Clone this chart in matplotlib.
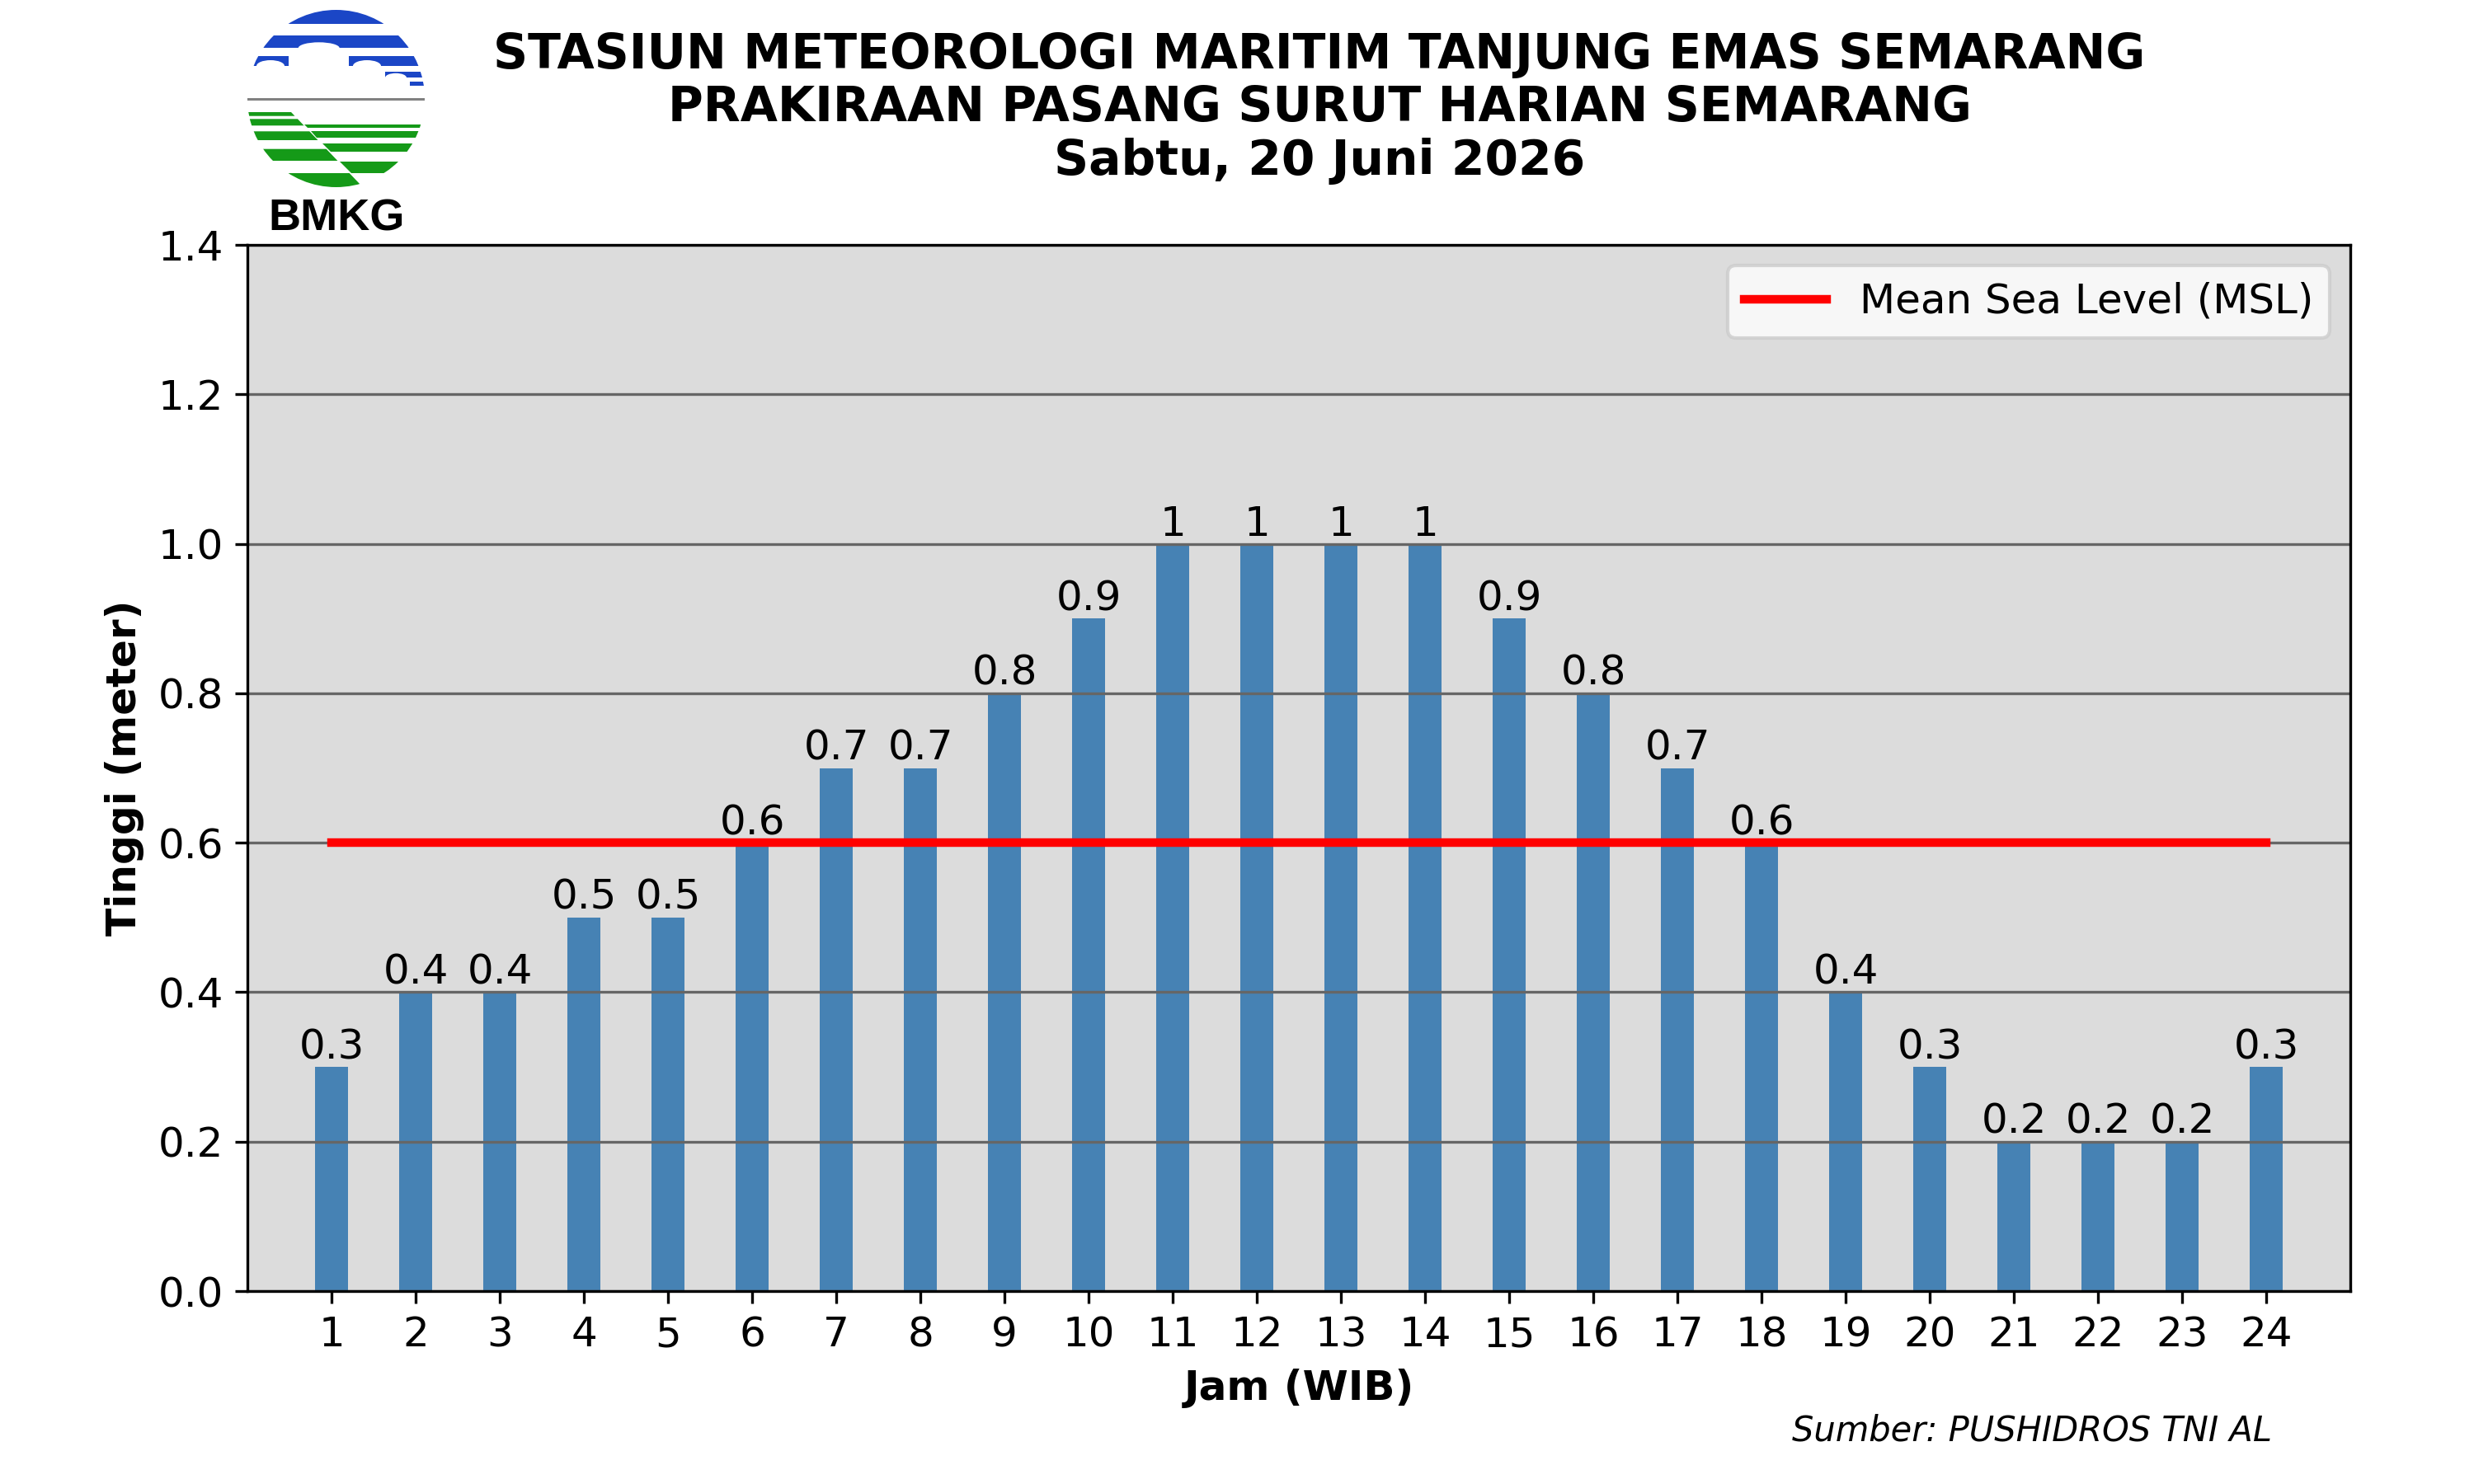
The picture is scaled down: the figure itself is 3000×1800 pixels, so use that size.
import matplotlib
matplotlib.use("Agg")
import matplotlib.pyplot as plt
from matplotlib.patches import Circle, Rectangle, Ellipse, Polygon

# ---------------- data ----------------
hours = list(range(1, 25))
heights = [0.3, 0.4, 0.4, 0.5, 0.5, 0.6, 0.7, 0.7, 0.8, 0.9, 1, 1,
           1, 1, 0.9, 0.8, 0.7, 0.6, 0.4, 0.3, 0.2, 0.2, 0.2, 0.3]
msl = 0.6
yticks = [0.0, 0.2, 0.4, 0.6, 0.8, 1.0, 1.2, 1.4]
title_lines = ["STASIUN METEOROLOGI MARITIM TANJUNG EMAS SEMARANG",
               "PRAKIRAAN PASANG SURUT HARIAN SEMARANG",
               "Sabtu, 20 Juni 2026"]
source_text = "Sumber: PUSHIDROS TNI AL"
legend_label = "Mean Sea Level (MSL)"

plt.rcParams['font.family'] = ['DejaVu Sans']

W, H = 3000, 1800
fig = plt.figure(figsize=(10, 6), dpi=300)

# ---------------- main chart ----------------
ax = fig.add_axes([0.1, 0.13, 0.85, 0.705])
ax.set_facecolor('#dcdcdc')
bars = ax.bar(hours, heights, width=0.4, color='steelblue')
ax.bar_label(bars, fmt='%g', fontsize=12)
ax.plot([hours[0], hours[-1]], [msl, msl], color='red', lw=2.5, label=legend_label)
ax.set_xlim(0, 25)
ax.set_ylim(0, 1.4)
ax.set_xticks(hours)
ax.set_yticks(yticks)
ax.tick_params(labelsize=12)
ax.yaxis.grid(True, color='#666666', lw=0.8)
ax.set_xlabel('Jam (WIB)', fontsize=12, fontweight='bold')
ax.set_ylabel('Tinggi (meter)', fontsize=12, fontweight='bold')
ax.legend(loc='upper right', fontsize=12)

# ---------------- titles ----------------
for txt, yb in zip(title_lines, [83, 147.5, 212]):
    fig.text(1600 / W, 1 - yb / H, txt, ha='center', va='baseline',
             fontsize=14, fontweight='bold')

fig.text(2755 / W, 1 - 1747 / H, source_text, ha='right', va='baseline',
         fontsize=10, style='italic')

# ---------------- logo (drawn in pixel coordinates) ----------------
x0, x1, y0, y1 = 295, 525, 5, 235
lax = fig.add_axes([x0 / W, 1 - y1 / H, (x1 - x0) / W, (y1 - y0) / H])
lax.set_xlim(x0, x1)
lax.set_ylim(y1, y0)
lax.axis('off')

cx, cy, r = 407.5, 119.5, 107.5
clip = Circle((cx, cy), r, transform=lax.transData)
blue = '#1b46c6'
green = '#159a18'


def add(p):
    lax.add_patch(p)
    p.set_clip_path(clip)


for (ya, yb, xa, xb) in [(12, 29.3, 290, 530), (43.3, 58.3, 290, 530),
                          (68.3, 80, 290, 350), (68.3, 80, 423, 530),
                          (86.7, 94.3, 467, 530), (99, 104, 497, 530)]:
    add(Rectangle((xa, ya), xb - xa, yb - ya, facecolor=blue, edgecolor='none'))

for (ex, ey, ew, eh) in [(386.7, 58.3, 50, 14), (328, 80, 34, 14),
                          (445, 80, 34, 14), (480, 94.3, 26, 11)]:
    add(Ellipse((ex, ey), ew, eh, facecolor='white', edgecolor='none'))

lax.add_patch(Rectangle((300, 119), 215, 3.3, facecolor='#808080', edgecolor='none'))


def D(y):
    return 353 + 0.955 * (y - 136)


g = 2
for (ya, yb) in [(136, 140.7), (144.3, 152.3), (159.3, 170), (180.7, 195), (210, 228)]:
    add(Polygon([(290, ya), (D(ya), ya), (D(yb), yb), (290, yb)],
                closed=True, facecolor=green, edgecolor='none'))
for (ya, yb) in [(150.7, 155), (159.3, 166.7), (174, 184), (196, 210)]:
    add(Polygon([(D(ya) + g, ya), (530, ya), (530, yb), (D(yb) + g, yb)],
                closed=True, facecolor=green, edgecolor='none'))

fig.text(408 / W, 1 - 280 / H, 'BMKG', ha='center', va='baseline',
         fontsize=13, fontweight='bold', family=['Liberation Sans', 'DejaVu Sans'])

fig.savefig('out.png', dpi=300)
